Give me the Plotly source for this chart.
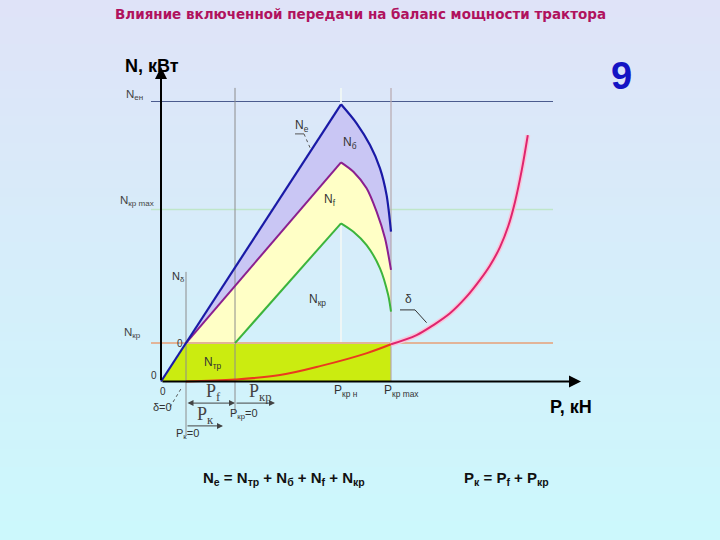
import plotly.graph_objects as go

# ---- data (schematic units: P in kN, N in kW) ----
P_ne = [0, 45, 48.9, 52.25, 54.75, 56.4, 57.5]
N_ne = [0, 69.3, 64.55, 59.1, 53.3, 46.6, 37.45]
P_nf = [6.25, 45, 48.1, 51.4, 53.9, 56, 57.5]
N_nf = [9.6, 54.8, 52.45, 48.3, 42.45, 35.8, 27.9]
P_nkr = [18.5, 45, 48.1, 51.4, 54.75, 56.8, 57.5]
N_nkr = [9.6, 39.55, 37.45, 34.1, 28.3, 21.6, 17.45]
P_delta = [6.25, 18.5, 29.75, 40, 51.5, 57.5, 63.9, 68.1, 72.25, 76.4, 79.75, 82.25, 84.75, 86.8, 88.5, 90.2, 91.7]
N_delta = [0, 0.5, 1.6, 3.9, 7.1, 9.3, 11.6, 14.1, 17.05, 21.2, 25.4, 29.0, 33.6, 38.8, 44.9, 52.9, 61.6]
level_names = ["N<sub>ен</sub>", "N<sub>кр max</sub>", "N<sub>кр</sub>"]
level_values = [70, 43, 9.6]
P_k0 = 6.25      # P_k = 0
P_f = 18.5       # P_kr = 0
P_krn = 45       # P_kr n
P_krmax = 57.5   # P_kr max
N_kr = 9.6

fig = go.Figure()

# background gradient
top = (223, 227, 248)
bot = (204, 248, 252)
nb = 60
shapes = []
for i in range(nb):
    t = i / (nb - 1)
    c = tuple(round(top[k] + (bot[k] - top[k]) * t) for k in range(3))
    shapes.append(dict(type="rect", xref="paper", yref="paper", x0=0, x1=1,
                       y0=1 - (i + 1) / nb, y1=1 - i / nb + 0.002,
                       fillcolor="rgb(%d,%d,%d)" % c, line=dict(width=0), layer="below"))

# level lines (below fills)
lvl_colors = ["#4b5b8e", "#bfe6c9", "#e2b498"]
lvl_widths = [1.2, 1.6, 2]
for v, c, w in zip(level_values, lvl_colors, lvl_widths):
    fig.add_trace(go.Scatter(x=[-2.5, 98], y=[v, v], mode="lines",
                             line=dict(color=c, width=w), hoverinfo="skip"))
# faint vertical at P_kr n
fig.add_trace(go.Scatter(x=[P_krn, P_krn], y=[0, 73.4], mode="lines",
                         line=dict(color="#eef6f6", width=2), hoverinfo="skip"))

# fills
fig.add_trace(go.Scatter(x=[0, P_k0, P_krmax, P_krmax, 0], y=[0, N_kr, N_kr, 0, 0],
                         fill="toself", fillcolor="#cbec10", mode="none", hoverinfo="skip"))
yx = P_nf + P_nkr[::-1] + [P_nf[0]]
yy = N_nf + N_nkr[::-1] + [N_nf[0]]
fig.add_trace(go.Scatter(x=yx, y=yy, fill="toself", fillcolor="#ffffc6", mode="none", hoverinfo="skip"))
lx = [P_nf[0]] + P_ne[1:] + P_nf[::-1]
ly = [N_nf[0]] + N_ne[1:] + N_nf[::-1]
fig.add_trace(go.Scatter(x=lx, y=ly, fill="toself", fillcolor="#c9c6f4", mode="none", hoverinfo="skip"))

# reference verticals (above fills)
fig.add_trace(go.Scatter(x=[P_f, P_f], y=[73.4, -7.9], mode="lines",
                         line=dict(color="#8c8c8c", width=1), hoverinfo="skip"))
fig.add_trace(go.Scatter(x=[P_k0, P_k0], y=[27.4, -13.4], mode="lines",
                         line=dict(color="#8c8c8c", width=1), hoverinfo="skip"))
fig.add_trace(go.Scatter(x=[P_krmax, P_krmax], y=[73.4, 0], mode="lines",
                         line=dict(color="#b8a8ae", width=1.2), hoverinfo="skip"))
fig.add_trace(go.Scatter(x=[-2.5, 98], y=[N_kr, N_kr], mode="lines",
                         line=dict(color="#e2b498", width=2), hoverinfo="skip"))

# curves: straight rising branch + smooth falling branch
for P, N, col, w in [(P_nkr, N_nkr, "#3cb43c", 2), (P_nf, N_nf, "#8b1f8f", 2), (P_ne, N_ne, "#1a1aa6", 2.2)]:
    fig.add_trace(go.Scatter(x=P[:2], y=N[:2], mode="lines", line=dict(color=col, width=w), hoverinfo="skip"))
    fig.add_trace(go.Scatter(x=P[1:], y=N[1:], mode="lines", line_shape="spline",
                             line=dict(color=col, width=w, smoothing=0.8), hoverinfo="skip"))
k = P_delta.index(P_krmax)
fig.add_trace(go.Scatter(x=P_delta[:k + 1], y=N_delta[:k + 1], mode="lines", line_shape="spline",
                         line=dict(color="#ea3a1e", width=2), hoverinfo="skip"))
fig.add_trace(go.Scatter(x=P_delta[k:], y=N_delta[k:], mode="lines", line_shape="spline",
                         line=dict(color="#f6c8dc", width=5, smoothing=1), hoverinfo="skip"))
fig.add_trace(go.Scatter(x=P_delta[k:], y=N_delta[k:], mode="lines", line_shape="spline",
                         line=dict(color="#e0246e", width=2, smoothing=1), hoverinfo="skip"))

# leader lines
shapes += [
    dict(type="line", x0=33.5, y0=61.9, x1=35.75, y1=61.9, line=dict(color="#555", width=1)),
    dict(type="line", x0=35.75, y0=61.9, x1=37.5, y1=57.9, line=dict(color="#555", width=1, dash="dot")),
    dict(type="line", x0=59.75, y0=17.9, x1=63.5, y1=17.9, line=dict(color="#333", width=1)),
    dict(type="line", x0=63.5, y0=17.9, x1=66.4, y1=14.7, line=dict(color="#333", width=1)),
    dict(type="line", x0=2.25, y0=-6.4, x1=5.25, y1=-1.4, line=dict(color="#555", width=1, dash="dot")),
]

ann = []
def txt(x, y, s, size=12, color="#404040", family="Liberation Sans", bold=False, xanchor="center", xref="x", yref="y"):
    if bold:
        s = "<b>" + s + "</b>"
    ann.append(dict(x=x, y=y, xref=xref, yref=yref, text=s, showarrow=False, xanchor=xanchor,
                    yanchor="middle", font=dict(size=size, color=color, family=family)))

def arrow(x0, y0, x1, y1, width=2, head=2, size=1, side="end", color="black"):
    ann.append(dict(x=x1, y=y1, ax=x0, ay=y0, xref="x", yref="y", axref="x", ayref="y", text="",
                    showarrow=True, arrowhead=head, arrowsize=size, arrowwidth=width,
                    arrowcolor=color, arrowside=side, standoff=0, startstandoff=0, startarrowhead=head))

# axes
arrow(0, 0, 0, 78.6, width=2, head=2, size=1.2)
arrow(0, 0, 105, 0, width=2, head=2, size=1.2)
arrow(P_k0, -5.4, P_f, -5.4, width=1, head=2, size=1.2, side="end+start", color="#444")
arrow(P_f, -5.4, 28.5, -5.4, width=1, head=2, size=1.2, color="#444")
arrow(P_k0, -11.1, 15.5, -11.1, width=1, head=2, size=1.2, color="#444")
arrow(P_k0, 27.4, P_k0, 28, width=1, head=2, size=1, color="#777")

# titles
txt(0.5, 1 - 14 / 540, "Влияние включенной передачи на баланс мощности трактора", size=13.5,
    color="#b0125e", family="DejaVu Sans", bold=True, xref="paper", yref="paper")
txt(-2.25, 79, "N, кВт", size=18, color="black", bold=True)
txt(102.5, -6.3, "P, кН", size=18, color="black", bold=True)
txt(115, 76.5, "9", size=38, color="#1414c4", family="Liberation Sans", bold=True)
txt(30.75, -24.2, "N<sub>e</sub> = N<sub>тр</sub> + N<sub>б</sub> + N<sub>f</sub> + N<sub>кр</sub>",
    size=15, color="#111", bold=True)
txt(86.25, -24.2, "P<sub>к</sub> = P<sub>f</sub> + P<sub>кр</sub>", size=15, color="#111", bold=True)

# level labels
for nm, v, xx, dy in zip(level_names, level_values, [-6.75, -6.0, -7.25], [1.6, 2.1, 2.5]):
    txt(xx, v + dy, nm, size=11.5, color="#444")

# region labels
txt(35.25, 63.9, "N<sub>e</sub>", size=12, color="#333")
txt(47.25, 59.6, "N<sub>б</sub>", size=12, color="#333")
txt(42.25, 45.4, "N<sub>f</sub>", size=12, color="#333")
txt(39, 20.4, "N<sub>кр</sub>", size=12, color="#333")
txt(13, 4.6, "N<sub>тр</sub>", size=12, color="#333")
txt(4.25, 26.1, "N<sub>δ</sub>", size=11, color="#333")
txt(61.75, 20.6, "δ", size=12, color="#333")
txt(4.75, 9.4, "0", size=10, color="#333")
txt(-1.75, 1.4, "0", size=10, color="#333")
txt(0.5, -2.4, "0", size=10, color="#333")
txt(0.25, -6.4, "δ=0", size=11, color="#333")
txt(13, -2.8, "P<sub>f</sub>", size=18, color="#444", family="Liberation Serif")
txt(24.75, -2.8, "P<sub>кр</sub>", size=18, color="#444", family="Liberation Serif")
txt(11, -8.4, "P<sub>к</sub>", size=18, color="#444", family="Liberation Serif")
txt(20.75, -8, "P<sub>кр</sub>=0", size=11, color="#333")
txt(6.5, -13.2, "P<sub>к</sub>=0", size=11, color="#333")
txt(46.25, -2.3, "P<sub>кр н</sub>", size=12, color="#333")
txt(60, -2.3, "P<sub>кр max</sub>", size=12, color="#333")

fig.update_layout(
    width=720, height=540, margin=dict(l=0, r=0, t=0, b=0),
    paper_bgcolor="rgb(214,238,250)", plot_bgcolor="rgba(0,0,0,0)",
    showlegend=False, shapes=shapes, annotations=ann,
    xaxis=dict(range=[-40.25, 139.75], visible=False, fixedrange=True),
    yaxis=dict(range=[-39.625, 95.375], visible=False, fixedrange=True),
)
fig.write_html("out.html", config={"displayModeBar": False},
               post_script="document.body.style.margin='0px';document.body.style.padding='0px';")
